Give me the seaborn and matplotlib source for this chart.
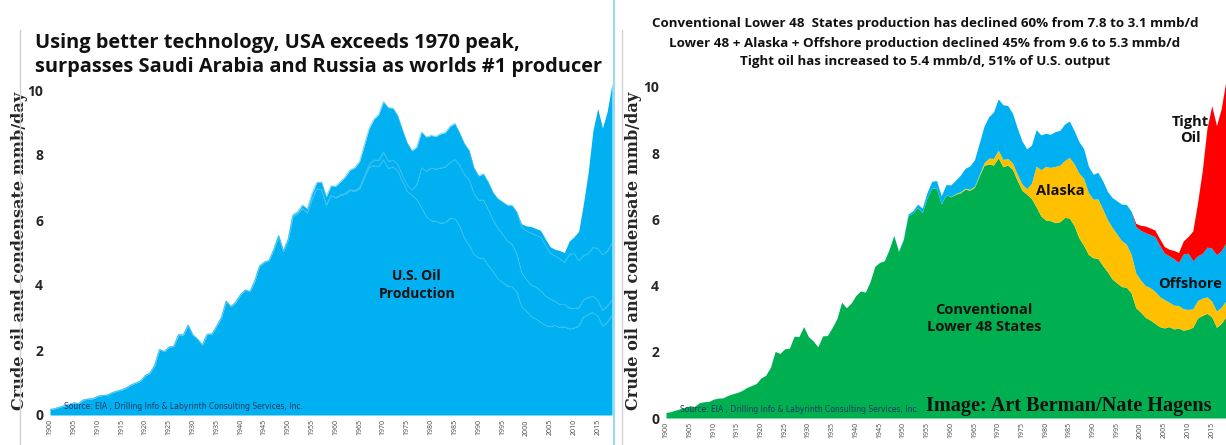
import numpy as np
import matplotlib
matplotlib.use("Agg")
import matplotlib.pyplot as plt
import seaborn as sns
from matplotlib.lines import Line2D

# annual U.S. crude oil + condensate, mmb/d, 1900-2018
years = list(range(1900, 2019))

lower48 = [
    0.17, 0.19, 0.24, 0.28, 0.32, 0.37, 0.35, 0.46, 0.49, 0.50,
    0.57, 0.60, 0.61, 0.68, 0.73, 0.77, 0.83, 0.92, 0.98, 1.04,
    1.21, 1.29, 1.53, 2.01, 1.95, 2.09, 2.11, 2.47, 2.46, 2.76,
    2.46, 2.33, 2.15, 2.48, 2.49, 2.73, 3.00, 3.50, 3.33, 3.47,
    3.70, 3.84, 3.80, 4.12, 4.58, 4.70, 4.75, 5.09, 5.51, 5.03,
    5.38, 6.11, 6.19, 6.36, 6.21, 6.64, 6.95, 6.94, 6.46, 6.75,
    6.68, 6.76, 6.80, 6.91, 6.88, 6.97, 7.31, 7.63, 7.67, 7.64,
    7.86, 7.59, 7.64, 7.51, 7.18, 6.88, 6.76, 6.63, 6.38, 6.10,
    5.98, 5.96, 5.90, 5.93, 6.06, 6.04, 5.81, 5.44, 5.22, 4.94,
    4.84, 4.82, 4.61, 4.42, 4.20, 4.08, 3.97, 3.95, 3.78, 3.33,
    3.20, 3.04, 2.96, 2.86, 2.76, 2.72, 2.76, 2.69, 2.72, 2.65,
    2.68, 2.74, 3.02, 3.10, 3.16, 3.05, 2.74, 2.86, 3.07,
]

alaska = [0.0] * 60 + [
    0.01, 0.02, 0.03, 0.03, 0.03, 0.03, 0.04, 0.08, 0.18, 0.20,
    0.23, 0.22, 0.20, 0.20, 0.19, 0.19, 0.17, 0.46, 1.23, 1.40,
    1.62, 1.61, 1.70, 1.71, 1.72, 1.83, 1.87, 1.96, 2.02, 1.87,
    1.77, 1.80, 1.71, 1.58, 1.56, 1.48, 1.39, 1.30, 1.17, 1.05,
    0.97, 0.96, 0.98, 0.97, 0.91, 0.86, 0.74, 0.72, 0.68, 0.65,
    0.60, 0.56, 0.53, 0.52, 0.50, 0.48, 0.49, 0.49, 0.48,
]

offshore = [0.0] * 48 + [
    0.01, 0.02, 0.03, 0.05, 0.07, 0.10, 0.13, 0.17, 0.20, 0.23,
    0.25, 0.30, 0.35, 0.40, 0.50, 0.60, 0.70, 0.80, 0.95, 1.10,
    1.25, 1.40, 1.55, 1.65, 1.60, 1.50, 1.40, 1.30, 1.20, 1.15,
    1.10, 1.05, 1.00, 1.00, 1.05, 1.05, 1.10, 1.10, 1.00, 0.95,
    0.90, 0.80, 0.75, 0.80, 0.85, 0.85, 0.90, 1.00, 1.10, 1.20,
    1.30, 1.40, 1.50, 1.60, 1.60, 1.65, 1.55, 1.40, 1.40, 1.40,
    1.30, 1.65, 1.70, 1.45, 1.35, 1.35, 1.50, 1.60, 1.70, 1.70,
    1.75,
]

tight = [0.0] * 99 + [
    0.10, 0.15, 0.20, 0.20, 0.20, 0.20, 0.20, 0.20, 0.25, 0.30,
    0.40, 0.50, 0.90, 1.60, 2.50, 3.60, 4.30, 3.90, 4.30, 4.90,
]

tick_years = list(range(1900, 2016, 5))

BLUE = "#00B0F0"
GREEN = "#00B050"
ORANGE = "#FFC000"
RED = "#FF0000"

sns.set_theme(style="white")
plt.rcParams["font.family"] = ["Open Sans", "DejaVu Sans"]

fig = plt.figure(figsize=(12.26, 4.45), dpi=100)
ax1 = fig.add_axes([50 / 1226, 30 / 445, 562 / 1226, 334.75 / 445])
ax2 = fig.add_axes([666 / 1226, 27 / 445, 560 / 1226, 341 / 445])

layers = [lower48, alaska, offshore, tight]

# left: everything in one blue, component edges faintly visible
ax1.stackplot(years, *layers, colors=[BLUE] * 4, linewidth=0)
cum = np.cumsum(np.array(layers), axis=0)
for row in cum[:3]:
    sns.lineplot(x=years, y=row, ax=ax1, color="#3FC2F3", linewidth=0.7, alpha=0.7)

# right: coloured components
ax2.stackplot(years, *layers, colors=[GREEN, ORANGE, BLUE, RED], linewidth=0)

for ax, lx in ((ax1, -22 / 562), (ax2, -24 / 560)):
    ax.set_xlim(1900, 2018)
    ax.set_ylim(0, 10.3)
    ax.set_yticks([0, 2, 4, 6, 8, 10])
    ax.set_yticklabels(["0", "2", "4", "6", "8", "10"], fontsize=10, fontweight="bold")
    ax.set_xticks(tick_years)
    ax.set_xticklabels([str(y) for y in tick_years], rotation=90, fontsize=5, color="#444444")
    ax.tick_params(axis="y", length=0, pad=5)
    ax.tick_params(axis="x", length=0, pad=3)
    for s in ax.spines.values():
        s.set_visible(False)
    ax.set_ylabel("Crude oil and condensate mmb/day", family="DejaVu Serif",
                  fontweight="bold", fontsize=11.6)
    ax.yaxis.set_label_coords(lx, 0.49)
    ax.patch.set_alpha(0)

fig.text(35 / 1226, 1 - 55 / 445,
         "Using better technology, USA exceeds 1970 peak,\n"
         "surpasses Saudi Arabia and Russia as worlds #1 producer",
         fontsize=14.4, fontweight="bold", ha="left", va="center", linespacing=1.3,
         color="#111111")

fig.text(925 / 1226, 1 - 43 / 445,
         "Conventional Lower 48  States production has declined 60% from 7.8 to 3.1 mmb/d\n"
         "Lower 48 + Alaska + Offshore production declined 45% from 9.6 to 5.3 mmb/d\n"
         "Tight oil has increased to 5.4 mmb/d, 51% of U.S. output",
         fontsize=9.6, fontweight="bold", ha="center", va="center", linespacing=1.6,
         color="#111111")

ax1.text(1977, 4.0, "U.S. Oil\nProduction", fontsize=10, fontweight="bold",
         ha="center", va="center", linespacing=1.3, color="#111111")
ax2.text(1967, 3.0, "Conventional\nLower 48 States", fontsize=10.5, fontweight="bold",
         ha="center", va="center", linespacing=1.3, color="#111111")
ax2.text(1983, 6.85, "Alaska", fontsize=10.5, fontweight="bold", ha="center", va="center",
         color="#111111")
ax2.text(2010.5, 4.05, "Offshore", fontsize=10.5, fontweight="bold", ha="center", va="center",
         color="#111111")
ax2.text(2010.5, 8.7, "Tight\nOil", fontsize=10.5, fontweight="bold", ha="center", va="center",
         linespacing=1.25, color="#111111")

src = "Source: EIA , Drilling Info & Labyrinth Consulting Services, Inc."
ax1.text(1903, 0.12, src, fontsize=5.5, color="#1F3864", family="Liberation Sans Narrow",
         ha="left", va="bottom")
ax2.text(1903, 0.12, src, fontsize=5.5, color="#1F3864", family="Liberation Sans Narrow",
         ha="left", va="bottom")
ax2.text(2015, 0.05, "Image: Art Berman/Nate Hagens", fontsize=14.6, fontweight="bold",
         family="Liberation Serif", color="#111111", ha="right", va="bottom")

# panel borders
fig.add_artist(Line2D([20 / 1226, 20 / 1226], [0, 1 - 30 / 445], color="#D0D0D0", lw=1))
fig.add_artist(Line2D([614 / 1226, 614 / 1226], [0, 1], color="#7FD6F7", lw=1.2))
fig.add_artist(Line2D([622 / 1226, 622 / 1226], [0, 1 - 30 / 445], color="#D0D0D0", lw=1))

fig.savefig("out.png", dpi=100)
